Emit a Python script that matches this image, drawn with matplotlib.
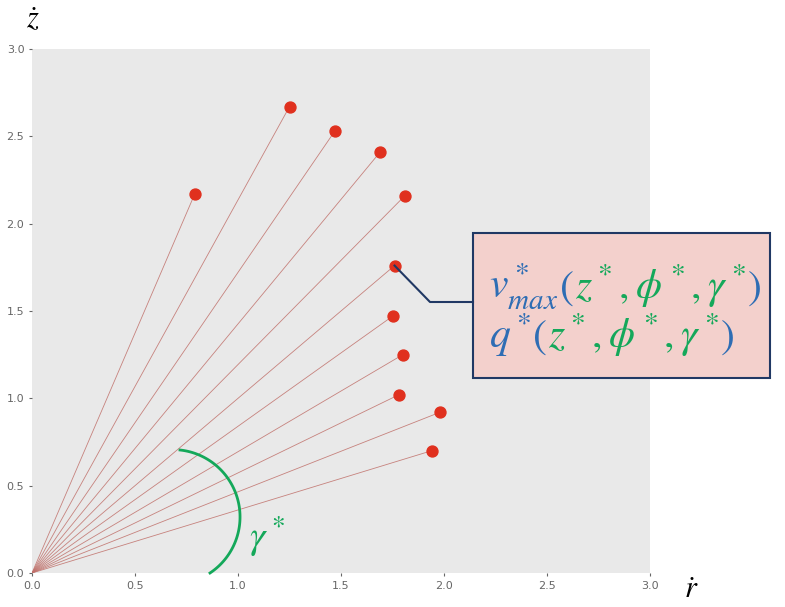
import numpy as np
import matplotlib
matplotlib.use("Agg")
import matplotlib.pyplot as plt
from matplotlib.patches import Rectangle

plt.rcParams['mathtext.fontset'] = 'stix'

# --- datos ---
r_dot = [0.79, 1.25, 1.47, 1.69, 1.81, 1.76, 1.75, 1.80, 1.78, 1.98, 1.94]
z_dot = [2.17, 2.67, 2.53, 2.41, 2.16, 1.76, 1.47, 1.25, 1.02, 0.92, 0.70]
ticks = [0.0, 0.5, 1.0, 1.5, 2.0, 2.5, 3.0]
tick_labels = ['0.0', '0.5', '1.0', '1.5', '2.0', '2.5', '3.0']
punto_destacado = 5  # indice del punto con la caja

AZUL = '#2e6db4'
VERDE = '#14a85a'
W, H = 785, 607

fig = plt.figure(figsize=(W / 100, H / 100), dpi=100)
ax = fig.add_axes([32 / W, 1 - 573 / H, (650 - 32) / W, (573 - 49) / H])
ax.set_facecolor('#e9e9e9')
for s in ax.spines.values():
    s.set_visible(False)

# lineas desde el origen
for x, y in zip(r_dot, z_dot):
    ax.plot([0, x], [0, y], color='#c0706a', lw=0.6, alpha=0.85, zorder=2)
ax.scatter(r_dot, z_dot, s=62, color='#e0301e', zorder=3)

ax.set_xlim(0, 3)
ax.set_ylim(0, 3)
ax.set_xticks(ticks)
ax.set_xticklabels(tick_labels)
ax.set_yticks(ticks)
ax.set_yticklabels(tick_labels)
ax.tick_params(colors='#666666', labelsize=8, length=2, width=0.8)

# etiquetas de ejes
fig.text(33 / W, 1 - 20 / H, r'$\dot{z}$', fontsize=22, ha='center', va='center')
fig.text(691 / W, 1 - 590 / H, r'$\dot{r}$', fontsize=22, ha='center', va='center')

# arco verde (gamma*)
p = np.array([[180, 450], [240, 515], [210, 573]], dtype=float)
a, b, c = p
d = 2 * (a[0] * (b[1] - c[1]) + b[0] * (c[1] - a[1]) + c[0] * (a[1] - b[1]))
ux = ((a @ a) * (b[1] - c[1]) + (b @ b) * (c[1] - a[1]) + (c @ c) * (a[1] - b[1])) / d
uy = ((a @ a) * (c[0] - b[0]) + (b @ b) * (a[0] - c[0]) + (c @ c) * (b[0] - a[0])) / d
rad = np.hypot(a[0] - ux, a[1] - uy)
t0 = np.arctan2(a[1] - uy, a[0] - ux)
t1 = np.arctan2(c[1] - uy, c[0] - ux)
tt = np.linspace(t0, t1, 100)
fig.add_artist(plt.Line2D((ux + rad * np.cos(tt)) / W, 1 - (uy + rad * np.sin(tt)) / H,
                          color=VERDE, lw=2, transform=fig.transFigure))
fig.text(249 / W, 1 - 537 / H, r'$\gamma^*$', fontsize=28, color=VERDE,
         ha='left', va='center')

# caja con el texto
fig.add_artist(Rectangle((473 / W, 1 - 378 / H), (770 - 473) / W, (378 - 233) / H,
                         transform=fig.transFigure, facecolor='#f3d0cc',
                         edgecolor='#203864', lw=1.5))
px = (r_dot[punto_destacado] - 0) / 3 * (650 - 32) + 32
py = 573 - z_dot[punto_destacado] / 3 * (573 - 49)
fig.add_artist(plt.Line2D(np.array([px, 430, 473]) / W, 1 - np.array([py, 302, 302]) / H,
                          color='#203864', lw=1.5, transform=fig.transFigure))

renderer = fig.canvas.get_renderer()


def texto_color(x0, y0, piezas, size):
    x = x0
    for s, col in piezas:
        t = fig.text(x / W, 1 - y0 / H, s, color=col, fontsize=size,
                     ha='left', va='baseline')
        x = t.get_window_extent(renderer).x1 + 1


texto_color(489, 299, [(r'$v^*_{max}$', AZUL), (r'$($', AZUL),
                       (r'$z^*,\phi^*,\gamma^*$', VERDE), (r'$)$', AZUL)], 30)
texto_color(489, 348, [(r'$q^*$', AZUL), (r'$($', AZUL),
                       (r'$z^*,\phi^*,\gamma^*$', VERDE), (r'$)$', AZUL)], 30)

fig.savefig('out.png', dpi=100)
